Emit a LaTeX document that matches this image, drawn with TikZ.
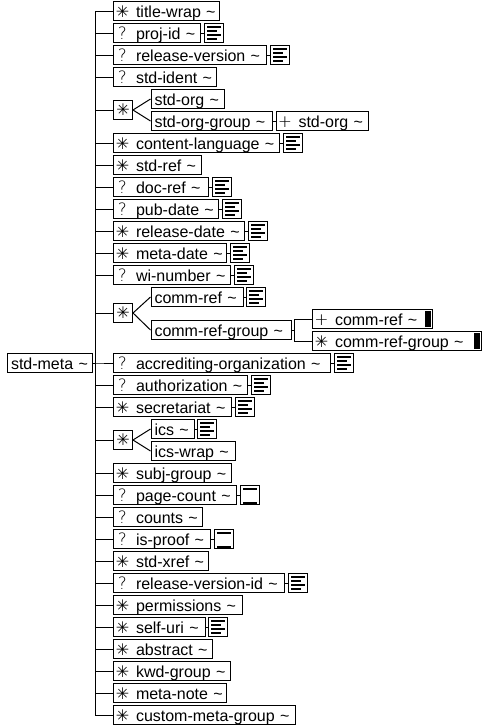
\documentclass[tikz,border=0pt]{standalone}
\usepackage{fontspec}
\setmainfont{Liberation Sans}
\newfontfamily\occfont{DejaVu Sans ExtraLight}
\newfontfamily\occstarfont{DejaVu Sans}
\usepackage{tikz}
\usetikzlibrary{positioning, calc}

\newcommand{\tld}{\textasciitilde}
\newcommand{\occ}[1]{\makebox[11pt][c]{\occfont\fontsize{17pt}{18pt}\selectfont #1}\hspace{8pt}}
\newcommand{\stargl}{{\occstarfont\fontsize{16pt}{18pt}\selectfont ✳}}
\newcommand{\occstar}{\makebox[11pt][c]{\stargl}\hspace{8pt}}

\begin{document}
\begin{tikzpicture}[
  x=1pt, y=1pt,
  elem/.style={rectangle, draw, line width=1pt, minimum height=19pt, inner ysep=0pt,
               inner xsep=3.5pt, text width={\the\dimexpr#1pt-8pt\relax}, align=left, text height=13pt, text depth=1pt,
               font=\fontsize{16pt}{18pt}\selectfont,
               execute at begin node={\exhyphenpenalty=10000\relax}},
  choice/.style={rectangle, draw, line width=1pt, minimum size=19pt, inner sep=0pt},
  docicon/.style={rectangle, draw, line width=1pt, minimum size=19pt, inner sep=0pt, right=2.5pt of #1,
    path picture={
      \fill (path picture bounding box.center) ++(-7,5.3) rectangle ++(14,2);
      \fill (path picture bounding box.center) ++(-7,1.3) rectangle ++(10,2);
      \fill (path picture bounding box.center) ++(-7,-3) rectangle ++(14,2);
      \fill (path picture bounding box.center) ++(-7,-7) rectangle ++(10,2);
    }},
  texticon/.style={rectangle, draw, line width=1pt, minimum size=19pt, inner sep=0pt, right=2.5pt of #1,
    path picture={
      \fill (path picture bounding box.center) ++(-7,5) rectangle ++(14,2);
      \fill (path picture bounding box.center) ++(-7,-9.5) rectangle ++(14,3);
    }},
  recursive/.style={path picture={
      \fill (path picture bounding box.east) ++(-7.5,8) rectangle ++(6,-16);
    }},
  link/.style={line width=1pt},
  branch/.style={to path={-- ++(#1,0) |- (\tikztotarget)}},
]
  \useasboundingbox (0,0) rectangle (486,-726);

  % ── Upper rows ──
  \node[elem=107, anchor=west] (titlewrap) at (113,-11) {\occstar title-wrap~\tld};
  \node[elem=88, below=2pt of titlewrap.south west, anchor=north west] (projid) {\occ{?}proj-id~\tld};
  \node[docicon=projid] (projiddoc) {};
  \node[elem=154, below=2pt of projid.south west, anchor=north west] (releaseversion) {\occ{?}release-version~\tld};
  \node[docicon=releaseversion] (releaseversiondoc) {};
  \node[elem=104, below=2pt of releaseversion.south west, anchor=north west] (stdident) {\occ{?}std-ident~\tld};

  % ── std-org choice ──
  \node[choice, below=13pt of stdident.south west, anchor=north west] (orgchoice) {\stargl};
  \node[elem=74, right=17.5pt of orgchoice, yshift=11pt] (stdorg) {std-org~\tld};
  \node[elem=122, right=17.5pt of orgchoice, yshift=-11pt] (stdorggroup) {std-org-group~\tld};
  \node[elem=93, right=3pt of stdorggroup] (stdorgplus) {\occ{+}std-org~\tld};

  \node[elem=167, below=13pt of orgchoice.south west, anchor=north west] (contentlanguage) {\occstar content-language~\tld};
  \node[docicon=contentlanguage] (contentlanguagedoc) {};
  \node[elem=89, below=2pt of contentlanguage.south west, anchor=north west] (stdref) {\occstar std-ref~\tld};
  \node[elem=96, below=2pt of stdref.south west, anchor=north west] (docref) {\occ{?}doc-ref~\tld};
  \node[docicon=docref] (docrefdoc) {};
  \node[elem=106, below=2pt of docref.south west, anchor=north west] (pubdate) {\occ{?}pub-date~\tld};
  \node[docicon=pubdate] (pubdatedoc) {};
  \node[elem=132, below=2pt of pubdate.south west, anchor=north west] (releasedate) {\occstar release-date~\tld};
  \node[docicon=releasedate] (releasedatedoc) {};
  \node[elem=114, below=2pt of releasedate.south west, anchor=north west] (metadate) {\occstar meta-date~\tld};
  \node[docicon=metadate] (metadatedoc) {};
  \node[elem=118, below=2pt of metadate.south west, anchor=north west] (winumber) {\occ{?}wi-number~\tld};
  \node[docicon=winumber] (winumberdoc) {};

  % ── comm-ref choice ──
  \node[choice, below=18pt of winumber.south west, anchor=north west] (commchoice) {\stargl};
  \node[elem=93, right=17.5pt of commchoice, yshift=16pt] (commref) {comm-ref~\tld};
  \node[docicon=commref] (commrefdoc) {};
  \node[elem=141, right=17.5pt of commchoice, yshift=-17pt] (commrefgroup) {comm-ref-group~\tld};
  \node[elem=121, recursive, right=20.5pt of commrefgroup, yshift=11pt] (commrefplus) {\occ{+}comm-ref~\tld};
  \node[elem=169.5, recursive, right=20.5pt of commrefgroup, yshift=-11pt] (commrefstar) {\occstar comm-ref-group~\tld};

  % ── Root and lower rows ──
  \node[elem=218, below=30pt of commchoice.south west, anchor=north west] (accrediting) {\occ{?}accrediting-organization~\tld};
  \node[docicon=accrediting] (accreditingdoc) {};
  \node[elem=86, left=20pt of accrediting] (stdmeta) {std-meta~\tld};
  \node[elem=135, below=2pt of accrediting.south west, anchor=north west] (authorization) {\occ{?}authorization~\tld};
  \node[docicon=authorization] (authorizationdoc) {};
  \node[elem=119, below=2pt of authorization.south west, anchor=north west] (secretariat) {\occstar secretariat~\tld};
  \node[docicon=secretariat] (secretariatdoc) {};

  % ── ics choice ──
  \node[choice, below=13pt of secretariat.south west, anchor=north west] (icschoice) {\stargl};
  \node[elem=44, right=17.5pt of icschoice, yshift=11pt] (ics) {ics~\tld};
  \node[docicon=ics] (icsdoc) {};
  \node[elem=85, right=17.5pt of icschoice, yshift=-11pt] (icswrap) {ics-wrap~\tld};

  \node[elem=119, below=13pt of icschoice.south west, anchor=north west] (subjgroup) {\occstar subj-group~\tld};
  \node[elem=124, below=2pt of subjgroup.south west, anchor=north west] (pagecount) {\occ{?}page-count~\tld};
  \node[texticon=pagecount] (pagecounttext) {};
  \node[elem=90, below=2pt of pagecount.south west, anchor=north west] (counts) {\occ{?}counts~\tld};
  \node[elem=98, below=2pt of counts.south west, anchor=north west] (isproof) {\occ{?}is-proof~\tld};
  \node[texticon=isproof] (isprooftext) {};
  \node[elem=96, below=2pt of isproof.south west, anchor=north west] (stdxref) {\occstar std-xref~\tld};
  \node[elem=172, below=2pt of stdxref.south west, anchor=north west] (releaseversionid) {\occ{?}release-version-id~\tld};
  \node[docicon=releaseversionid] (releaseversioniddoc) {};
  \node[elem=130, below=2pt of releaseversionid.south west, anchor=north west] (permissions) {\occstar permissions~\tld};
  \node[elem=92.5, below=2pt of permissions.south west, anchor=north west] (selfuri) {\occstar self-uri~\tld};
  \node[docicon=selfuri] (selfuridoc) {};
  \node[elem=100, below=2pt of selfuri.south west, anchor=north west] (abstract) {\occstar abstract~\tld};
  \node[elem=118, below=2pt of abstract.south west, anchor=north west] (kwdgroup) {\occstar kwd-group~\tld};
  \node[elem=114, below=2pt of kwdgroup.south west, anchor=north west] (metanote) {\occstar meta-note~\tld};
  \node[elem=183, below=2pt of metanote.south west, anchor=north west] (custommeta) {\occstar custom-meta-group~\tld};

  % ── Links from the root ──
  \draw[link, branch=2.5] (stdmeta.east) to (titlewrap.west);
  \draw[link, branch=2.5] (stdmeta.east) to (projid.west);
  \draw[link, branch=2.5] (stdmeta.east) to (releaseversion.west);
  \draw[link, branch=2.5] (stdmeta.east) to (stdident.west);
  \draw[link, branch=2.5] (stdmeta.east) to (orgchoice.west);
  \draw[link, branch=2.5] (stdmeta.east) to (contentlanguage.west);
  \draw[link, branch=2.5] (stdmeta.east) to (stdref.west);
  \draw[link, branch=2.5] (stdmeta.east) to (docref.west);
  \draw[link, branch=2.5] (stdmeta.east) to (pubdate.west);
  \draw[link, branch=2.5] (stdmeta.east) to (releasedate.west);
  \draw[link, branch=2.5] (stdmeta.east) to (metadate.west);
  \draw[link, branch=2.5] (stdmeta.east) to (winumber.west);
  \draw[link, branch=2.5] (stdmeta.east) to (commchoice.west);
  \draw[link, branch=2.5] (stdmeta.east) to (accrediting.west);
  \draw[link, branch=2.5] (stdmeta.east) to (authorization.west);
  \draw[link, branch=2.5] (stdmeta.east) to (secretariat.west);
  \draw[link, branch=2.5] (stdmeta.east) to (icschoice.west);
  \draw[link, branch=2.5] (stdmeta.east) to (subjgroup.west);
  \draw[link, branch=2.5] (stdmeta.east) to (pagecount.west);
  \draw[link, branch=2.5] (stdmeta.east) to (counts.west);
  \draw[link, branch=2.5] (stdmeta.east) to (isproof.west);
  \draw[link, branch=2.5] (stdmeta.east) to (stdxref.west);
  \draw[link, branch=2.5] (stdmeta.east) to (releaseversionid.west);
  \draw[link, branch=2.5] (stdmeta.east) to (permissions.west);
  \draw[link, branch=2.5] (stdmeta.east) to (selfuri.west);
  \draw[link, branch=2.5] (stdmeta.east) to (abstract.west);
  \draw[link, branch=2.5] (stdmeta.east) to (kwdgroup.west);
  \draw[link, branch=2.5] (stdmeta.east) to (metanote.west);
  \draw[link, branch=2.5] (stdmeta.east) to (custommeta.west);

  % ── Choice and group links ──
  \draw[link] (orgchoice.east) -- (stdorg.west);
  \draw[link] (orgchoice.east) -- (stdorggroup.west);
  \draw[link] (stdorggroup) -- (stdorgplus);
  \draw[link] (commchoice.east) -- (commref.west);
  \draw[link] (commchoice.east) -- (commrefgroup.west);
  \draw[link, branch=3] (commrefgroup.east) to (commrefplus.west);
  \draw[link, branch=3] (commrefgroup.east) to (commrefstar.west);
  \draw[link] (icschoice.east) -- (ics.west);
  \draw[link] (icschoice.east) -- (icswrap.west);

  % ── Icon links ──
  \draw[link] (projid) -- (projiddoc);
  \draw[link] (releaseversion) -- (releaseversiondoc);
  \draw[link] (contentlanguage) -- (contentlanguagedoc);
  \draw[link] (docref) -- (docrefdoc);
  \draw[link] (pubdate) -- (pubdatedoc);
  \draw[link] (releasedate) -- (releasedatedoc);
  \draw[link] (metadate) -- (metadatedoc);
  \draw[link] (winumber) -- (winumberdoc);
  \draw[link] (commref) -- (commrefdoc);
  \draw[link] (accrediting) -- (accreditingdoc);
  \draw[link] (authorization) -- (authorizationdoc);
  \draw[link] (secretariat) -- (secretariatdoc);
  \draw[link] (ics) -- (icsdoc);
  \draw[link] (pagecount) -- (pagecounttext);
  \draw[link] (isproof) -- (isprooftext);
  \draw[link] (releaseversionid) -- (releaseversioniddoc);
  \draw[link] (selfuri) -- (selfuridoc);
\end{tikzpicture}
\end{document}
